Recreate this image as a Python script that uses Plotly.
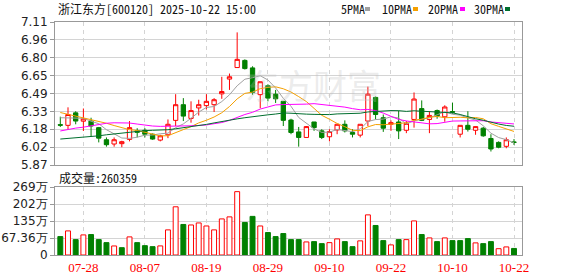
import plotly.graph_objects as go

# ---------------- data ----------------
dates = ["07-23", "07-24", "07-25", "07-28", "07-29", "07-30", "07-31", "08-01", "08-04", "08-05",
         "08-06", "08-07", "08-08", "08-11", "08-12", "08-13", "08-14", "08-15", "08-18", "08-19",
         "08-20", "08-21", "08-22", "08-25", "08-26", "08-27", "08-28", "08-29", "09-01", "09-02",
         "09-03", "09-04", "09-05", "09-08", "09-09", "09-10", "09-11", "09-12", "09-15", "09-16",
         "09-17", "09-18", "09-19", "09-22", "09-23", "09-24", "09-25", "09-26", "09-29", "09-30",
         "10-09", "10-10", "10-13", "10-14", "10-15", "10-16", "10-17", "10-20", "10-21", "10-22"]

opens = [6.22, 6.214, 6.322, 6.25, 6.251, 6.194, 6.089, 6.052, 6.055, 6.092,
         6.166, 6.171, 6.137, 6.086, 6.132, 6.257, 6.393, 6.274, 6.365, 6.385,
         6.393, 6.487, 6.615, 6.715, 6.777, 6.712, 6.48, 6.558, 6.484, 6.422,
         6.26, 6.157, 6.109, 6.243, 6.166, 6.115, 6.174, 6.223, 6.152, 6.129,
         6.251, 6.456, 6.28, 6.223, 6.243, 6.171, 6.265, 6.359, 6.265, 6.342,
         6.288, 6.333, 6.137, 6.214, 6.171, 6.189, 6.10, 6.066, 6.032, 6.07]
highs = [6.289, 6.37, 6.336, 6.36, 6.28, 6.20, 6.109, 6.109, 6.08, 6.251,
         6.189, 6.189, 6.143, 6.132, 6.265, 6.484, 6.45, 6.422, 6.436, 6.484,
         6.45, 6.635, 6.663, 7.02, 6.786, 6.726, 6.592, 6.57, 6.521, 6.422,
         6.271, 6.20, 6.208, 6.243, 6.18, 6.18, 6.223, 6.257, 6.18, 6.223,
         6.55, 6.464, 6.308, 6.257, 6.342, 6.251, 6.499, 6.43, 6.336, 6.351,
         6.388, 6.41, 6.214, 6.336, 6.203, 6.20, 6.137, 6.075, 6.109, 6.095]
lows = [6.20, 6.18, 6.223, 6.165, 6.115, 6.066, 6.029, 6.029, 6.024, 6.075,
        6.109, 6.109, 6.089, 6.075, 6.103, 6.208, 6.251, 6.237, 6.299, 6.351,
        6.33, 6.444, 6.521, 6.715, 6.698, 6.479, 6.362, 6.422, 6.408, 6.208,
        6.137, 6.029, 6.109, 6.166, 6.095, 6.075, 6.137, 6.152, 6.109, 6.109,
        6.208, 6.265, 6.157, 6.166, 6.095, 6.146, 6.194, 6.251, 6.146, 6.271,
        6.245, 6.316, 6.109, 6.16, 6.132, 6.115, 5.987, 6.015, 6.015, 6.044]
closes = [6.215, 6.308, 6.251, 6.27, 6.208, 6.103, 6.046, 6.089, 6.072, 6.194,
          6.154, 6.137, 6.095, 6.123, 6.223, 6.393, 6.294, 6.342, 6.393, 6.422,
          6.436, 6.507, 6.635, 6.786, 6.706, 6.499, 6.592, 6.45, 6.444, 6.257,
          6.152, 6.109, 6.203, 6.194, 6.109, 6.16, 6.223, 6.166, 6.137, 6.223,
          6.484, 6.308, 6.189, 6.237, 6.166, 6.231, 6.442, 6.257, 6.30, 6.294,
          6.373, 6.328, 6.214, 6.18, 6.203, 6.123, 6.009, 6.024, 6.089, 6.066]

ma5 = [6.28, 6.28, 6.28, 6.275, 6.25, 6.228, 6.176, 6.143, 6.104, 6.101,
       6.111, 6.129, 6.13, 6.141, 6.146, 6.194, 6.226, 6.275, 6.329, 6.369,
       6.377, 6.42, 6.479, 6.557, 6.614, 6.627, 6.644, 6.607, 6.538, 6.448,
       6.379, 6.282, 6.233, 6.183, 6.153, 6.155, 6.178, 6.17, 6.159, 6.182,
       6.247, 6.264, 6.268, 6.288, 6.277, 6.226, 6.253, 6.267, 6.279, 6.305,
       6.333, 6.31, 6.302, 6.278, 6.26, 6.21, 6.146, 6.108, 6.09, 6.062]
ma10 = [6.325, 6.31, 6.295, 6.28, 6.265, 6.25, 6.232, 6.212, 6.192, 6.176,
        6.17, 6.152, 6.137, 6.122, 6.124, 6.153, 6.177, 6.203, 6.235, 6.258,
        6.286, 6.323, 6.377, 6.443, 6.491, 6.502, 6.532, 6.543, 6.548, 6.531,
        6.503, 6.463, 6.42, 6.361, 6.301, 6.267, 6.23, 6.202, 6.171, 6.168,
        6.201, 6.221, 6.219, 6.224, 6.229, 6.236, 6.258, 6.267, 6.284, 6.291,
        6.28, 6.282, 6.284, 6.279, 6.282, 6.271, 6.228, 6.205, 6.184, 6.161]
ma20 = [6.165, 6.18, 6.19, 6.198, 6.21, 6.222, 6.232, 6.236, 6.236, 6.234,
        6.225, 6.215, 6.208, 6.205, 6.205, 6.205, 6.208, 6.21, 6.213, 6.217,
        6.228, 6.238, 6.257, 6.283, 6.308, 6.327, 6.355, 6.373, 6.391, 6.394,
        6.394, 6.393, 6.398, 6.402, 6.396, 6.385, 6.381, 6.372, 6.359, 6.349,
        6.352, 6.342, 6.32, 6.292, 6.265, 6.252, 6.244, 6.235, 6.227, 6.229,
        6.24, 6.251, 6.252, 6.251, 6.256, 6.254, 6.243, 6.236, 6.234, 6.226]
ma30 = [6.095, 6.10, 6.103, 6.109, 6.115, 6.123, 6.132, 6.14, 6.148, 6.155,
        6.162, 6.168, 6.171, 6.173, 6.176, 6.184, 6.192, 6.202, 6.212, 6.222,
        6.235, 6.248, 6.26, 6.27, 6.28, 6.29, 6.298, 6.305, 6.312, 6.321,
        6.319, 6.313, 6.311, 6.309, 6.305, 6.307, 6.313, 6.316, 6.318, 6.319,
        6.33, 6.336, 6.339, 6.342, 6.341, 6.335, 6.34, 6.337, 6.334, 6.33,
        6.328, 6.322, 6.308, 6.288, 6.271, 6.258, 6.239, 6.225, 6.213, 6.206]

volumes = [73, 95.5, 61, 79.6, 81, 61, 49, 35.8, 29, 71.7,
           49, 37, 33, 36, 99.5, 191, 121, 119, 127, 115,
           99.5, 143, 151, 251, 129, 153, 115, 89, 73, 85,
           61, 61, 51.8, 53, 45, 49, 63.7, 53, 33, 56,
           159, 117, 57, 40, 61, 61, 135, 81, 67.7, 53,
           67.7, 57, 57, 65, 48, 45, 53, 25, 32, 26.04]  # 万
vol_up = [0, 1, 0, 1, 0, 0, 0, 1, 0, 1,
          0, 0, 0, 1, 1, 1, 0, 1, 1, 1,
          1, 1, 1, 1, 0, 0, 1, 0, 0, 0,
          0, 0, 1, 0, 0, 1, 1, 0, 0, 1,
          1, 0, 0, 1, 0, 1, 1, 0, 1, 0,
          1, 0, 0, 0, 1, 0, 0, 1, 1, 0]

price_ticks = ["5.87", "6.02", "6.18", "6.33", "6.49", "6.65", "6.80", "6.96", "7.11"]
vol_ticks = ["0", "67.36万", "135万", "202万", "269万"]
vol_tickvals = [0, 67.36, 134.72, 202.08, 269.44]
date_ticks = ["07-28", "08-07", "08-19", "08-29", "09-10", "09-22", "10-10", "10-22"]
ma_names = ["5PMA", "10PMA", "20PMA", "30PMA"]
title_text = "浙江东方[600120] 2025-10-22 15:00"
vol_title = "成交量:260359"

# ---------------- style ----------------
W, H = 578, 276
L, R, T, B = 55, 522, 22, 255
UP, DOWN = "#ff0000", "#008000"
MA_COLORS = ["#a0a0a0", "#f5a000", "#ff00ff", "#006e2e"]
GRID = "#d4d4d4"
FRAME = "#999999"
MONO = "Noto Sans Mono CJK SC, Noto Sans CJK SC, DejaVu Sans Mono, monospace"
LBL = "DejaVu Sans, Verdana, sans-serif"

def px_x(px):
    return (px - L) / (R - L)

def px_y(py):
    return (B - py) / (B - T)

p_lo, p_hi = float(price_ticks[0]), float(price_ticks[-1])
n_pt = len(price_ticks) - 1
price_tickvals = [p_lo + k * (p_hi - p_lo) / n_pt for k in range(n_pt + 1)]

fig = go.Figure()

fig.add_trace(go.Candlestick(
    x=dates, open=opens, high=highs, low=lows, close=closes,
    increasing=dict(line=dict(color=UP, width=1), fillcolor="#ffffff"),
    decreasing=dict(line=dict(color=DOWN, width=1), fillcolor=DOWN),
    whiskerwidth=0, xaxis="x", yaxis="y", showlegend=False, hoverinfo="skip"))

for vals, col in zip([ma5, ma10, ma20, ma30], MA_COLORS):
    fig.add_trace(go.Scatter(x=dates, y=vals, mode="lines",
                             line=dict(color=col, width=1),
                             xaxis="x", yaxis="y", showlegend=False, hoverinfo="skip"))

fig.add_trace(go.Bar(
    x=dates, y=volumes,
    marker=dict(color=["#ffffff" if u else DOWN for u in vol_up],
                line=dict(color=[UP if u else DOWN for u in vol_up], width=1)),
    xaxis="x2", yaxis="y2", showlegend=False, hoverinfo="skip"))

xr = [-0.69, len(dates) - 1 + 1.04]
axis_common = dict(showline=True, mirror=True, linecolor=FRAME, linewidth=1,
                   zeroline=False, fixedrange=True, automargin=False)

fig.update_layout(
    width=W, height=H, showlegend=False,
    margin=dict(l=L, r=W - R, t=T, b=H - B, pad=0, autoexpand=False),
    paper_bgcolor="white", plot_bgcolor="white",
    bargap=0.36, boxgap=0.2,
    xaxis=dict(type="category", categoryorder="array", categoryarray=dates,
               domain=[0, 1], anchor="y", range=xr,
               tickmode="array", tickvals=date_ticks, showticklabels=False,
               showgrid=True, gridcolor=GRID, griddash="4px,4px", gridwidth=1,
               rangeslider=dict(visible=False), ticks="", **axis_common),
    yaxis=dict(domain=[px_y(165), 1], anchor="x", range=[p_lo, p_hi],
               tickmode="array", tickvals=price_tickvals, ticktext=price_ticks,
               showgrid=True, gridcolor=GRID, gridwidth=1,
               ticks="outside", ticklen=4, tickcolor=FRAME,
               tickfont=dict(family=LBL, size=12, color="#222"), **axis_common),
    xaxis2=dict(type="category", categoryorder="array", categoryarray=dates,
                domain=[0, 1], anchor="y2", range=xr,
                tickmode="array", tickvals=date_ticks, ticktext=date_ticks,
                showgrid=True, gridcolor=GRID, griddash="4px,4px", gridwidth=1,
                ticks="", tickfont=dict(family="Liberation Serif, serif", size=13, color=UP),
                **axis_common),
    yaxis2=dict(domain=[0, px_y(187)], anchor="x2", range=[0, vol_tickvals[-1]],
                tickmode="array", tickvals=vol_tickvals, ticktext=vol_ticks,
                showgrid=True, gridcolor=GRID, gridwidth=1,
                ticks="outside", ticklen=4, tickcolor=FRAME,
                tickfont=dict(family=LBL, size=12, color="#222"), **axis_common),
)

annotations = [
    dict(text=title_text, x=px_x(56), y=px_y(9), xref="paper", yref="paper",
         xanchor="left", yanchor="middle", showarrow=False,
         font=dict(family=MONO, size=12, color="#111")),
    dict(text=vol_title, x=px_x(57), y=px_y(177), xref="paper", yref="paper",
         xanchor="left", yanchor="middle", showarrow=False,
         font=dict(family=MONO, size=12, color="#111")),
    dict(text="东方财富", x=px_x(313), y=px_y(84), xref="paper", yref="paper",
         xanchor="center", yanchor="middle", showarrow=False,
         font=dict(family="Noto Sans CJK SC", size=34, color="rgba(190,190,190,0.30)")),
]
shapes = []
legend_x = [339, 380, 426, 472]
square_x = [365, 413, 460, 505]
for name, lx, sx, col in zip(ma_names, legend_x, square_x, MA_COLORS):
    annotations.append(dict(text=name, x=px_x(lx), y=px_y(9), xref="paper", yref="paper",
                            xanchor="left", yanchor="middle", showarrow=False,
                            font=dict(family=MONO, size=12, color="#111")))
    shapes.append(dict(type="rect", xref="paper", yref="paper",
                       x0=px_x(sx), x1=px_x(sx + 5), y0=px_y(11), y1=px_y(7),
                       fillcolor=col, line=dict(width=0)))

fig.update_layout(annotations=annotations, shapes=shapes)
fig.write_html("out.html")
